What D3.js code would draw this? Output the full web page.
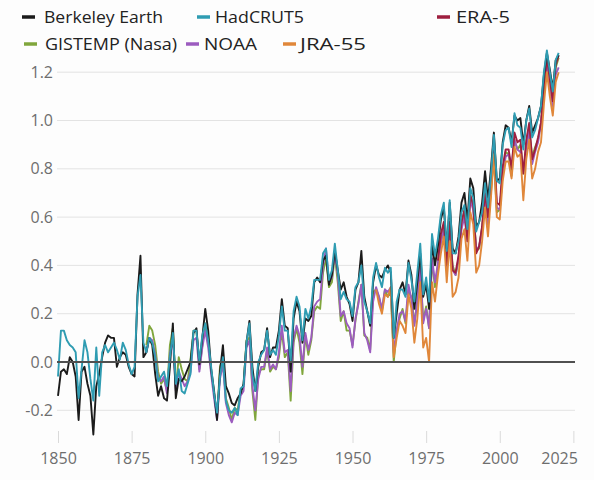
<!DOCTYPE html>
<html>
<head>
<meta charset="utf-8">
<script src="https://cdn.jsdelivr.net/npm/d3@7"></script>
<style>
  html, body { margin: 0; padding: 0; background: #fdfdfd; }
  svg { display: block; font-family: "Open Sans", "Noto Sans", sans-serif; }
</style>
</head>
<body>
<svg id="chart" width="594" height="480"></svg>
<script>
// ---------------- DATA ----------------
const yTicks = [-0.2, 0.0, 0.2, 0.4, 0.6, 0.8, 1.0, 1.2];
const xTicks = [1850, 1875, 1900, 1925, 1950, 1975, 2000, 2025];

const berkeleyStart = 1850;
const berkeley = [
 -0.14,-0.04,-0.03,-0.05,0.02,0.00,-0.06,-0.24,-0.04,-0.02,
 -0.09,-0.14,-0.30,-0.10,-0.05,0.02,0.08,0.11,0.10,0.10,
 -0.02,0.02,0.04,0.03,-0.02,-0.05,-0.06,0.28,0.44,0.02,
 0.04,0.10,0.07,-0.05,-0.14,-0.10,-0.15,-0.16,-0.02,0.16,
 -0.15,-0.07,-0.08,-0.06,-0.03,0.00,0.12,0.14,-0.01,0.10,
 0.22,0.13,-0.03,-0.12,-0.24,-0.04,0.07,-0.10,-0.13,-0.17,
 -0.18,-0.15,-0.13,-0.09,0.08,0.17,-0.02,-0.12,-0.02,0.04,
 0.05,0.14,0.02,0.06,0.06,0.13,0.26,0.15,0.14,-0.04,
 0.18,0.25,0.21,0.08,0.18,0.17,0.19,0.33,0.35,0.33,
 0.42,0.44,0.32,0.36,0.46,0.38,0.30,0.33,0.27,0.24,
 0.17,0.30,0.33,0.46,0.27,0.21,0.15,0.33,0.40,0.36,
 0.35,0.38,0.40,0.37,0.10,0.20,0.30,0.33,0.28,0.42,
 0.36,0.22,0.33,0.45,0.27,0.32,0.22,0.49,0.40,0.48,
 0.59,0.64,0.47,0.66,0.47,0.45,0.52,0.66,0.70,0.58,
 0.76,0.72,0.56,0.58,0.66,0.79,0.67,0.80,0.95,0.75,
 0.76,0.91,0.98,0.97,0.91,1.02,1.00,1.01,0.90,1.00,
 1.06,0.95,0.98,1.01,1.06,1.19,1.28,1.21,1.13,1.25,
 1.27
];

const hadcrutStart = 1850;
const hadcrut = [
 -0.06,0.13,0.13,0.09,0.07,0.06,0.04,-0.15,-0.03,0.09,
 0.04,-0.07,-0.16,0.06,-0.14,0.04,0.07,0.04,0.06,0.08,
 0.05,0.01,0.08,0.05,-0.01,-0.05,-0.02,0.27,0.36,0.08,
 0.04,0.10,0.08,0.02,-0.08,-0.06,-0.04,-0.10,0.02,0.12,
 -0.09,-0.03,-0.12,-0.13,-0.09,-0.05,0.13,0.13,0.00,0.11,
 0.16,0.09,-0.02,-0.13,-0.21,-0.06,0.02,-0.16,-0.20,-0.21,
 -0.19,-0.22,-0.11,-0.10,0.08,0.16,-0.05,-0.12,0.00,0.03,
 0.05,0.13,0.03,0.05,0.03,0.11,0.23,0.13,0.13,0.00,
 0.21,0.27,0.23,0.09,0.22,0.18,0.23,0.34,0.34,0.34,
 0.45,0.47,0.34,0.38,0.49,0.38,0.26,0.29,0.26,0.25,
 0.19,0.31,0.33,0.40,0.25,0.21,0.16,0.35,0.41,0.35,
 0.31,0.39,0.37,0.39,0.10,0.25,0.30,0.30,0.27,0.41,
 0.34,0.25,0.37,0.49,0.28,0.35,0.25,0.53,0.44,0.51,
 0.61,0.66,0.46,0.67,0.45,0.45,0.50,0.62,0.65,0.55,
 0.72,0.68,0.54,0.58,0.62,0.74,0.64,0.77,0.94,0.75,
 0.74,0.90,0.96,0.97,0.89,1.03,0.98,0.97,0.88,1.00,
 1.05,0.93,0.96,1.01,1.06,1.20,1.29,1.20,1.12,1.25,
 1.28
];

const gistempStart = 1880;
const gistemp = [
 0.07,0.15,0.13,0.07,-0.04,-0.09,-0.07,-0.12,0.07,0.14,
 -0.11,0.02,-0.03,-0.07,-0.08,0.01,0.13,0.13,-0.03,0.07,
 0.16,0.09,-0.04,-0.13,-0.23,-0.02,0.02,-0.15,-0.19,-0.24,
 -0.19,-0.20,-0.12,-0.10,0.09,0.10,-0.12,-0.24,-0.05,-0.03,
 -0.03,0.05,-0.04,-0.02,-0.03,0.02,0.13,0.02,0.04,-0.16,
 0.08,0.14,0.08,-0.05,0.11,0.03,0.09,0.21,0.23,0.22,
 0.37,0.43,0.31,0.33,0.44,0.33,0.17,0.21,0.13,0.13,
 0.07,0.17,0.25,0.32,0.11,0.10,0.05,0.29,0.30,0.27,
 0.21,0.30,0.27,0.29,0.00,0.13,0.18,0.22,0.16,0.29,
 0.27,0.16,0.25,0.40,0.17,0.23,0.14,0.42,0.31,0.40,
 0.50,0.56,0.38,0.55,0.40,0.36,0.42,0.56,0.63,0.51,
 0.69,0.65,0.46,0.47,0.56,0.69,0.57,0.70,0.85,0.62,
 0.63,0.78,0.87,0.86,0.77,0.92,0.88,0.90,0.78,0.89,
 0.96,0.85,0.89,0.92,0.99,1.14,1.25,1.16,1.09,1.22,
 1.26
];

const noaaStart = 1880;
const noaa = [
 0.04,0.10,0.09,0.03,-0.07,-0.08,-0.06,-0.13,0.03,0.10,
 -0.12,-0.04,-0.07,-0.10,-0.08,-0.04,0.09,0.10,-0.04,0.06,
 0.13,0.06,-0.05,-0.15,-0.24,-0.07,-0.01,-0.17,-0.22,-0.25,
 -0.21,-0.22,-0.14,-0.12,0.06,0.09,-0.10,-0.20,-0.07,-0.02,
 -0.02,0.06,-0.03,-0.01,-0.03,0.04,0.15,0.04,0.05,-0.12,
 0.10,0.15,0.11,-0.02,0.12,0.05,0.10,0.23,0.25,0.26,
 0.40,0.47,0.33,0.35,0.45,0.36,0.19,0.21,0.16,0.14,
 0.06,0.18,0.24,0.32,0.12,0.09,0.04,0.25,0.31,0.27,
 0.22,0.30,0.29,0.31,0.04,0.13,0.20,0.21,0.17,0.32,
 0.26,0.15,0.26,0.39,0.16,0.22,0.14,0.43,0.33,0.41,
 0.49,0.55,0.39,0.56,0.38,0.36,0.43,0.55,0.60,0.50,
 0.67,0.63,0.46,0.48,0.55,0.67,0.57,0.72,0.87,0.64,
 0.63,0.78,0.85,0.86,0.81,0.92,0.88,0.87,0.79,0.89,
 0.96,0.82,0.87,0.91,0.99,1.12,1.22,1.13,1.06,1.19,
 1.22
];

const era5Start = 1979;
const era5 = [
 0.42,0.53,0.58,0.40,0.58,0.38,0.37,0.44,0.58,0.63,
 0.50,0.69,0.65,0.45,0.48,0.56,0.70,0.60,0.73,0.90,
 0.66,0.65,0.81,0.88,0.88,0.80,0.95,0.91,0.92,0.78,
 0.92,0.99,0.84,0.88,0.93,0.99,1.13,1.26,1.17,1.08,
 1.23,1.27
];

const jra55Start = 1958;
const jra55 = [
 0.30,0.24,0.20,0.28,0.27,0.31,0.02,0.10,0.17,0.15,
 0.12,0.28,0.22,0.08,0.18,0.33,0.06,0.10,0.00,0.33,
 0.25,0.36,0.45,0.52,0.33,0.50,0.27,0.29,0.35,0.51,
 0.55,0.42,0.62,0.57,0.37,0.40,0.50,0.64,0.52,0.68,
 0.86,0.60,0.59,0.75,0.83,0.83,0.76,0.89,0.85,0.86,
 0.67,0.84,0.92,0.76,0.80,0.87,0.91,1.07,1.20,1.10,
 1.02,1.16,1.20
];

const seriesNames  = ["Berkeley Earth", "HadCRUT5", "ERA-5", "GISTEMP (Nasa)", "NOAA", "JRA-55"];
const seriesColors = ["#1b1b1b", "#2f9cb2", "#9e1f3f", "#80a63c", "#9c5cbf", "#e0873a"];

// ---------------- BUILD ----------------
const series = [
  {name: seriesNames[0], color: seriesColors[0], start: berkeleyStart, values: berkeley},
  {name: seriesNames[1], color: seriesColors[1], start: hadcrutStart, values: hadcrut},
  {name: seriesNames[2], color: seriesColors[2], start: era5Start, values: era5},
  {name: seriesNames[3], color: seriesColors[3], start: gistempStart, values: gistemp},
  {name: seriesNames[4], color: seriesColors[4], start: noaaStart, values: noaa},
  {name: seriesNames[5], color: seriesColors[5], start: jra55Start, values: jra55}
].map(s => ({...s, points: s.values.map((v, i) => ({year: s.start + i, value: v}))}));

const svg = d3.select("#chart");
const x = d3.scaleLinear().domain([1850, 2025]).range([58, 573.4]);
const y = d3.scaleLinear().domain([-0.2, 1.2]).range([410.3, 72.2]);

// grid
const grid = svg.append("g");
grid.selectAll("line").data(yTicks).join("line")
  .attr("x1", 57).attr("x2", 575)
  .attr("y1", d => y(d)).attr("y2", d => y(d))
  .attr("stroke", "#e3e3e3").attr("stroke-width", 1);

// y axis labels
const yAxis = d3.axisLeft(y).tickValues(yTicks).tickSize(0).tickPadding(0)
  .tickFormat(d => d < 0 ? "-" + Math.abs(d).toFixed(1) : d.toFixed(1));
const gy = svg.append("g").attr("transform", "translate(53,0)").call(yAxis);
gy.select(".domain").remove();
gy.selectAll("text").attr("fill", "#6e6e6e").style("font-size", "16px")
  .style("font-family", "'Open Sans', sans-serif");

// x axis
const xAxis = d3.axisBottom(x).tickValues(xTicks).tickFormat(d3.format("d")).tickSize(12).tickPadding(10);
const gx = svg.append("g").attr("transform", "translate(0,431)").call(xAxis);
gx.select(".domain").remove();
gx.selectAll(".tick line").attr("stroke", "#dadada");
gx.selectAll("text").attr("fill", "#6e6e6e").style("font-size", "16px")
  .style("font-family", "'Open Sans', sans-serif");
gx.selectAll(".tick").filter(d => d === 2025).select("text").attr("text-anchor", "end").attr("dx", "4");

// lines
const line = d3.line().x(d => x(d.year)).y(d => y(d.value));
const drawOrder = [3, 4, 2, 5, 0, 1];
svg.append("g").selectAll("path").data(drawOrder.map(i => series[i])).join("path")
  .attr("d", d => line(d.points))
  .attr("fill", "none")
  .attr("stroke", d => d.color)
  .attr("stroke-width", 1.9)
  .attr("stroke-linejoin", "round");

// zero line
svg.append("line").attr("x1", 57).attr("x2", 575)
  .attr("y1", y(0)).attr("y2", y(0))
  .attr("stroke", "#505050").attr("stroke-width", 2);

// legend
const legendPos = [
  {sx: 22, tx: 44, ty: 17, w: 119},
  {sx: 197, tx: 215, ty: 17, w: 89},
  {sx: 437, tx: 456, ty: 17, w: 54},
  {sx: 24, tx: 45, ty: 44, w: 132},
  {sx: 186, tx: 204, ty: 44, w: 53},
  {sx: 283, tx: 300, ty: 44, w: 66}
];
const lg = svg.append("g").selectAll("g").data(series).join("g");
lg.append("line")
  .attr("x1", (d, i) => legendPos[i].sx).attr("x2", (d, i) => legendPos[i].sx + 13)
  .attr("y1", (d, i) => legendPos[i].ty).attr("y2", (d, i) => legendPos[i].ty)
  .attr("stroke", d => d.color).attr("stroke-width", 3.5);
lg.append("text")
  .attr("x", (d, i) => legendPos[i].tx).attr("y", (d, i) => legendPos[i].ty)
  .attr("dy", "0.35em")
  .attr("fill", "#222")
  .attr("textLength", (d, i) => legendPos[i].w)
  .attr("lengthAdjust", "spacingAndGlyphs")
  .style("font-size", "16px")
  .style("font-weight", "500")
  .text(d => d.name);
</script>
</body>
</html>
